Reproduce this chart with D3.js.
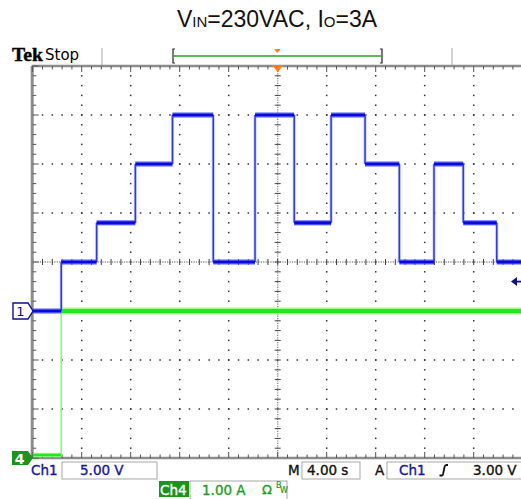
<!DOCTYPE html>
<html>
<head>
<meta charset="utf-8">
<script src="https://cdn.jsdelivr.net/npm/d3@7"></script>
<style>
  html, body { margin: 0; padding: 0; background: #fff; }
  svg { display: block; }
</style>
</head>
<body>
<div id="chart"></div>
<script>
// Bus voltage (Ch1) steps: time (s, across the 10-division screen) and level (V)
const stepTimes = [0, 2.33, 5.22, 8.38, 11.41, 14.74, 18.15, 21.35, 24.36, 27.13, 29.93, 32.76, 35.15, 37.88, 40];
const busVolts  = [0, 5, 9, 15, 20, 5, 20, 9, 20, 15, 5, 15, 9, 5];

// Load current (Ch4): time (s) and level (A)
const loadTimes = [0, 2.33, 40];
const loadAmps  = [0.06, 3];

// Scope settings shown on the readout
const ch1Scale = "5.00 V";
const ch4Scale = "1.00 A";
const timeScale = "4.00 s";
const trigLevel = "3.00 V";
const trigLevelVolts = 3;

const W = 521, H = 499;
const svg = d3.select("#chart").append("svg")
  .attr("width", W).attr("height", H)
  .style("font-family", "'DejaVu Sans', sans-serif");

// Screen geometry: 10 x 8 divisions
const x0 = 32.7, divPx = 49, y0 = 66;
const xDiv = d3.scaleLinear().domain([0, 10]).range([x0, x0 + 10 * divPx]);
const yDiv = d3.scaleLinear().domain([0, 8]).range([y0, y0 + 8 * divPx]);

// Data scales
const xT = d3.scaleLinear().domain([0, 40]).range([xDiv(0), xDiv(10)]);
const yV = d3.scaleLinear().domain([-15, 25]).range([yDiv(8), yDiv(0)]);   // 5 V/div, ground one div below centre
const yA = d3.scaleLinear().domain([0, 8]).range([yDiv(8), yDiv(0)]);      // 1 A/div, ground at bottom

const clipId = "screenClip";
svg.append("clipPath").attr("id", clipId)
  .append("rect").attr("x", xDiv(0)).attr("y", yDiv(0) - 2)
  .attr("width", xDiv(10) - xDiv(0)).attr("height", yDiv(8) - yDiv(0) + 4);

// ---- Title ----
const title = svg.append("text")
  .attr("x", 277).attr("y", 27)
  .attr("text-anchor", "middle")
  .style("font-family", "'Liberation Sans', Arial, sans-serif")
  .style("font-size", "23px").attr("fill", "#111");
title.append("tspan").text("V");
title.append("tspan").style("font-size", "15px").text("IN");
title.append("tspan").text("=230VAC, I");
title.append("tspan").style("font-size", "15px").text("O");
title.append("tspan").text("=3A");

// ---- Header strip ----
svg.append("text").attr("x", 12).attr("y", 61)
  .style("font-family", "'Liberation Serif', 'Times New Roman', serif")
  .style("font-weight", "bold").style("font-size", "19px")
  .attr("textLength", 31).attr("lengthAdjust", "spacingAndGlyphs")
  .attr("fill", "#000").attr("stroke", "#000").attr("stroke-width", 0.4).text("Tek");
svg.append("text").attr("x", 45).attr("y", 60)
  .style("font-size", "15px").attr("fill", "#000").text("Stop");

[102, 452].forEach(px => {
  svg.append("line").attr("x1", px).attr("x2", px).attr("y1", 48).attr("y2", 65)
    .attr("stroke", "#b8b8b8").attr("stroke-width", 1.2);
});
// record bracket
svg.append("path").attr("d", "M175,49 L173,49 L173,63 L175,63")
  .attr("fill", "none").attr("stroke", "#222").attr("stroke-width", 1.2);
svg.append("path").attr("d", "M380,49 L382,49 L382,63 L380,63")
  .attr("fill", "none").attr("stroke", "#222").attr("stroke-width", 1.2);
svg.append("line").attr("x1", 173).attr("x2", 382).attr("y1", 56).attr("y2", 56)
  .attr("stroke", "#2aa02a").attr("stroke-width", 1.3);
svg.append("path").attr("d", "M274,49 L280.5,49 L277.3,53 Z").attr("fill", "#ff7f1e");

// ---- Graticule ----
const grid = svg.append("g").attr("clip-path", `url(#${clipId})`);
const sub = d3.range(0, 10.001, 0.2);
const subY = d3.range(0, 8.001, 0.2);

// dotted major lines
for (let i = 1; i < 10; i++) {
  if (i === 5) continue;
  subY.forEach(s => {
    grid.append("rect").attr("x", xDiv(i) - 0.75).attr("y", yDiv(s) - 0.75)
      .attr("width", 1.5).attr("height", 1.5).attr("fill", "#333");
  });
}
for (let j = 1; j < 8; j++) {
  if (j === 4) continue;
  sub.forEach(s => {
    grid.append("rect").attr("x", xDiv(s) - 0.75).attr("y", yDiv(j) - 0.75)
      .attr("width", 1.5).attr("height", 1.5).attr("fill", "#333");
  });
}
// centre lines: dense dots + sub-division ticks
grid.append("line").attr("x1", xDiv(0)).attr("x2", xDiv(10)).attr("y1", yDiv(4)).attr("y2", yDiv(4))
  .attr("stroke", "#8a8a8a").attr("stroke-width", 1.3).attr("stroke-dasharray", "1.2,1.2");
grid.append("line").attr("x1", xDiv(5)).attr("x2", xDiv(5)).attr("y1", yDiv(0)).attr("y2", yDiv(8))
  .attr("stroke", "#8a8a8a").attr("stroke-width", 1.3).attr("stroke-dasharray", "1.2,1.2");
sub.forEach(s => {
  grid.append("line").attr("x1", xDiv(s)).attr("x2", xDiv(s))
    .attr("y1", yDiv(4) - 3).attr("y2", yDiv(4) + 3).attr("stroke", "#444").attr("stroke-width", 1);
});
subY.forEach(s => {
  grid.append("line").attr("y1", yDiv(s)).attr("y2", yDiv(s))
    .attr("x1", xDiv(5) - 3).attr("x2", xDiv(5) + 3).attr("stroke", "#444").attr("stroke-width", 1);
});

// border with ticks
const border = svg.append("g");
border.append("line").attr("x1", xDiv(0) - 1).attr("x2", W).attr("y1", yDiv(0)).attr("y2", yDiv(0))
  .attr("stroke", "#8c8c8c").attr("stroke-width", 2.6);
border.append("line").attr("x1", xDiv(0) - 1).attr("x2", W).attr("y1", yDiv(8)).attr("y2", yDiv(8))
  .attr("stroke", "#8c8c8c").attr("stroke-width", 2.6);
border.append("line").attr("x1", xDiv(0) - 0.5).attr("x2", xDiv(0) - 0.5).attr("y1", yDiv(0)).attr("y2", yDiv(8))
  .attr("stroke", "#8c8c8c").attr("stroke-width", 3);
sub.forEach(s => {
  const major = Math.abs(s - Math.round(s)) < 1e-6;
  const len = major ? 6 : 3.5;
  border.append("line").attr("x1", xDiv(s)).attr("x2", xDiv(s))
    .attr("y1", yDiv(0)).attr("y2", yDiv(0) + len).attr("stroke", "#555").attr("stroke-width", 1);
  border.append("line").attr("x1", xDiv(s)).attr("x2", xDiv(s))
    .attr("y1", yDiv(8)).attr("y2", yDiv(8) - len).attr("stroke", "#555").attr("stroke-width", 1);
});
subY.forEach(s => {
  const major = Math.abs(s - Math.round(s)) < 1e-6;
  const len = major ? 6 : 3.5;
  border.append("line").attr("y1", yDiv(s)).attr("y2", yDiv(s))
    .attr("x1", xDiv(0)).attr("x2", xDiv(0) + len).attr("stroke", "#555").attr("stroke-width", 1);
});

// trigger position marker
svg.append("path")
  .attr("d", `M${xDiv(5) - 6},${yDiv(0) - 1} L${xDiv(5) + 6},${yDiv(0) - 1} L${xDiv(5)},${yDiv(0) + 6} Z`)
  .attr("fill", "#ff7f1e");

// ---- Traces ----
const traces = svg.append("g").attr("clip-path", `url(#${clipId})`);

// Ch4 current
const loadSteps = loadAmps.map((a, i) => ({ t0: loadTimes[i], t1: loadTimes[i + 1], v: a }));
loadSteps.forEach((s, i) => {
  if (i > 0) {
    traces.append("line").attr("x1", xT(s.t0)).attr("x2", xT(s.t0))
      .attr("y1", yA(loadSteps[i - 1].v)).attr("y2", yA(s.v))
      .attr("stroke", "#7dff7d").attr("stroke-width", 1.6);
  }
});
loadSteps.forEach(s => {
  traces.append("line").attr("x1", xT(s.t0)).attr("x2", xT(s.t1))
    .attr("y1", yA(s.v)).attr("y2", yA(s.v))
    .attr("stroke", "#8cff7a").attr("stroke-width", s.v > 1 ? 7 : 4.5).attr("opacity", 0.85);
  traces.append("line").attr("x1", xT(s.t0)).attr("x2", xT(s.t1))
    .attr("y1", yA(s.v)).attr("y2", yA(s.v))
    .attr("stroke", "#22e622").attr("stroke-width", s.v > 1 ? 4 : 2.5);
});

// Ch1 bus voltage
const busSteps = busVolts.map((v, i) => ({ t0: stepTimes[i], t1: stepTimes[i + 1], v }));
busSteps.forEach((s, i) => {
  if (i > 0) {
    const x = xT(s.t0);
    traces.append("line").attr("x1", x).attr("x2", x)
      .attr("y1", yV(busSteps[i - 1].v)).attr("y2", yV(s.v))
      .attr("stroke", "#9aa4ff").attr("stroke-width", 3).attr("opacity", 0.6);
    traces.append("line").attr("x1", x).attr("x2", x)
      .attr("y1", yV(busSteps[i - 1].v)).attr("y2", yV(s.v))
      .attr("stroke", "#2a35ff").attr("stroke-width", 1.5);
  }
});
busSteps.forEach(s => {
  traces.append("line").attr("x1", xT(s.t0)).attr("x2", xT(s.t1))
    .attr("y1", yV(s.v)).attr("y2", yV(s.v))
    .attr("stroke", "#5a64ff").attr("stroke-width", 5.5).attr("opacity", 0.7);
  traces.append("line").attr("x1", xT(s.t0)).attr("x2", xT(s.t1))
    .attr("y1", yV(s.v)).attr("y2", yV(s.v))
    .attr("stroke", "#0a0ad8").attr("stroke-width", 3.2);
});

// ---- Channel ground markers ----
const g1 = yV(0);
svg.append("path")
  .attr("d", `M13,${g1 - 8} L28,${g1 - 8} L33,${g1} L28,${g1 + 8} L13,${g1 + 8} Z`)
  .attr("fill", "#fff").attr("stroke", "#10108a").attr("stroke-width", 1.4);
svg.append("text").attr("x", 20.5).attr("y", g1 + 5).attr("text-anchor", "middle")
  .style("font-size", "13px").attr("fill", "#10108a").text("1");

const g4 = yA(0);
svg.append("path")
  .attr("d", `M12,${g4 - 7} L28,${g4 - 7} L33,${g4} L28,${g4 + 7} L12,${g4 + 7} Z`)
  .attr("fill", "#1a941a");
svg.append("text").attr("x", 19.5).attr("y", g4 + 5.5).attr("text-anchor", "middle")
  .style("font-size", "14px").style("font-weight", "bold").attr("fill", "#fff").text("4");

// trigger level arrow at the right edge
const ty = yV(trigLevelVolts);
svg.append("path").attr("d", `M511,${ty} L517,${ty - 4.5} L517,${ty + 4.5} Z`).attr("fill", "#10108a");
svg.append("line").attr("x1", 515).attr("x2", W).attr("y1", ty).attr("y2", ty)
  .attr("stroke", "#10108a").attr("stroke-width", 1.8);

// ---- Readout ----
const blue = "#1414a8", green = "#1c9e1c", boxStroke = "#a8a8a8";
const ro = svg.append("g").style("font-size", "13.5px");
const txt = (x, y, color, s) => ro.append("text").attr("x", x).attr("y", y)
  .attr("fill", color).attr("stroke", color).attr("stroke-width", 0.35).text(s);

txt(31, 475, blue, "Ch1");
ro.append("rect").attr("x", 62).attr("y", 462).attr("width", 95).attr("height", 17)
  .attr("fill", "#fff").attr("stroke", boxStroke);
txt(80, 475, blue, ch1Scale);

txt(288, 475, "#111", "M");
ro.append("rect").attr("x", 302).attr("y", 462).attr("width", 58).attr("height", 17)
  .attr("fill", "#fff").attr("stroke", boxStroke);
txt(307, 475, "#111", timeScale);

txt(375, 475, "#111", "A");
ro.append("rect").attr("x", 387).attr("y", 462).attr("width", 140).attr("height", 17)
  .attr("fill", "#fff").attr("stroke", boxStroke);
txt(399, 475, blue, "Ch1");
ro.append("path").attr("d", "M439.5,475.5 L442,475.5 Q443,475.5 443.3,473 L444.5,467 Q445,465 446.5,465 L448,465")
  .attr("fill", "none").attr("stroke", "#111").attr("stroke-width", 1.8);
txt(473, 475, "#111", trigLevel);

ro.append("rect").attr("x", 159).attr("y", 481).attr("width", 30).attr("height", 16).attr("fill", "#1a941a");
txt(160, 494.5, "#fff", "Ch4");
ro.append("rect").attr("x", 190).attr("y", 481).attr("width", 97).attr("height", 20)
  .attr("fill", "#fff").attr("stroke", boxStroke);
txt(202, 494.5, green, ch4Scale);
txt(262, 494, green, "Ω").style("font-size", "13px");
txt(276, 488, green, "B").style("font-size", "8px").attr("stroke-width", 0.2);
txt(280, 493, green, "W").style("font-size", "8px").attr("stroke-width", 0.2);
</script>
</body>
</html>
